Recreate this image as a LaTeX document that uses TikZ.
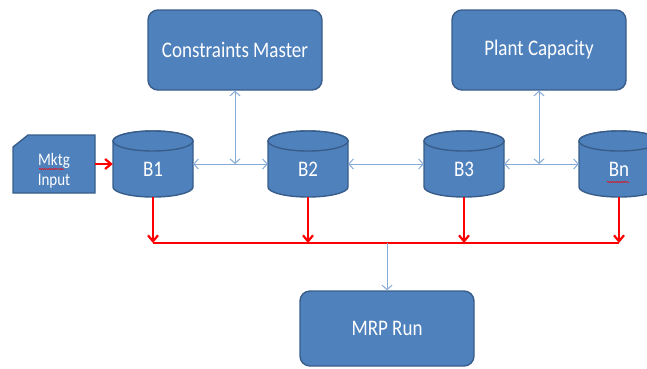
\documentclass[tikz,border=0pt]{standalone}
\usepackage{fontspec}
\setmainfont{Carlito}
\usetikzlibrary{arrows.meta,calc,decorations.pathmorphing}
\definecolor{boxfill}{HTML}{4F81BD}
\definecolor{boxedge}{HTML}{385D8A}
\definecolor{linkblue}{HTML}{86A9D6}

% slightly condensed-looking lettering: stretched vertically
\newcommand\tall[1]{\scalebox{1}[1.17]{#1}}

\tikzset{
  panel/.style={fill=boxfill, draw=boxedge, line width=1.4pt, rounded corners=10pt,
    minimum width=174pt, minimum height=80pt, inner sep=0pt, text=white,
    font=\fontsize{19}{22}\selectfont},
  drumbody/.style={fill=boxfill, draw=boxedge, line width=1.4pt},
  drumlabel/.style={minimum width=80pt, minimum height=66pt, inner sep=0pt, text=white,
    text height=25pt, text depth=0pt, font=\fontsize{19}{22}\selectfont},
  cardlabel/.style={minimum width=82pt, minimum height=50pt, inner sep=0pt, text=white,
    align=center, font=\fontsize{15}{20}\selectfont},
  link/.style={draw=linkblue, line width=1pt,
    {Straight Barb[length=4.5pt,width=10pt]}-{Straight Barb[length=4.5pt,width=10pt]}},
  tap/.style={draw=linkblue, line width=1pt, -{Straight Barb[length=4.5pt,width=10pt]}},
  feed/.style={draw=red, line width=2.2pt, -{Straight Barb[length=6pt,width=10pt]}},
  bus/.style={draw=red, line width=2.2pt},
  spell/.style={draw=red, line width=0.5pt, decorate,
    decoration={snake, amplitude=0.6pt, segment length=2.4pt}},
}

% drum-shaped store: name, x, y, label
\newcommand\drum[4]{%
  \coordinate (#1-c) at (#2,#3);
  \draw[drumbody] ([shift={(-40pt,23pt)}]#1-c) -- ([shift={(-40pt,-23pt)}]#1-c)
    arc[start angle=180, end angle=360, x radius=40pt, y radius=10pt]
    -- ([shift={(40pt,23pt)}]#1-c)
    arc[start angle=0, end angle=180, x radius=40pt, y radius=10pt] -- cycle;
  \draw[drumbody] ([shift={(0pt,23pt)}]#1-c) ellipse[x radius=40pt, y radius=10pt];
  \node[drumlabel] (#1) at (#1-c) {\tall{#4}};
}

\begin{document}
\begin{tikzpicture}[x=1pt, y=-1pt]
  \path[use as bounding box] (0,0) rectangle (647,368);
  \clip (0,0) rectangle (647,368);

  % master data boxes
  \node[panel] (CM) at (235,50) {\tall{Constraints Master}};
  \node[panel] (PC) at (539,50) {\tall{Plant Capacity}};
  \node[panel, minimum height=75pt] (MRP) at (387,328.5) {\tall{MRP Run}};

  % marketing input card
  \draw[drumbody] (13,147) -- (28,135) -- (95,135) -- (95,193) -- (13,193) -- cycle;
  \node[cardlabel] (MK) at (54,171) {\tall{Mktg}\\\tall{Input}};
  \draw[spell] (39,169) -- (64,169);

  % bucket stores
  \drum{B1}{153}{164}{B1}
  \drum{B2}{308}{164}{B2}
  \drum{B3}{464}{164}{B3}
  \drum{Bn}{619}{164}{Bn}
  \draw[spell] (607,182) -- (629,182);

  % links between stores and master data
  \coordinate (j1) at (CM.south |- B1.east);
  \coordinate (j2) at (PC.south |- B3.east);
  \draw[link] (B1.east) -- (B2.west);
  \draw[link] (B2.east) -- (B3.west);
  \draw[link] (B3.east) -- (Bn.west);
  \draw[link] (CM.south) -- (j1);
  \draw[link] (PC.south) -- (j2);

  % marketing feed
  \draw[feed] (MK.east |- B1.west) -- (B1.west);

  % collection bus into the MRP run
  \coordinate (busL) at (153,243);
  \coordinate (busR) at (619,243);
  \draw[bus] (busL) -- (busR);
  \draw[feed] (B1.south) -- (B1.south |- busL);
  \draw[feed] (B2.south) -- (B2.south |- busL);
  \draw[feed] (B3.south) -- (B3.south |- busL);
  \draw[feed] (Bn.south) -- (Bn.south |- busL);
  \draw[tap] (MRP.north |- busL) -- (MRP.north);
\end{tikzpicture}
\end{document}
